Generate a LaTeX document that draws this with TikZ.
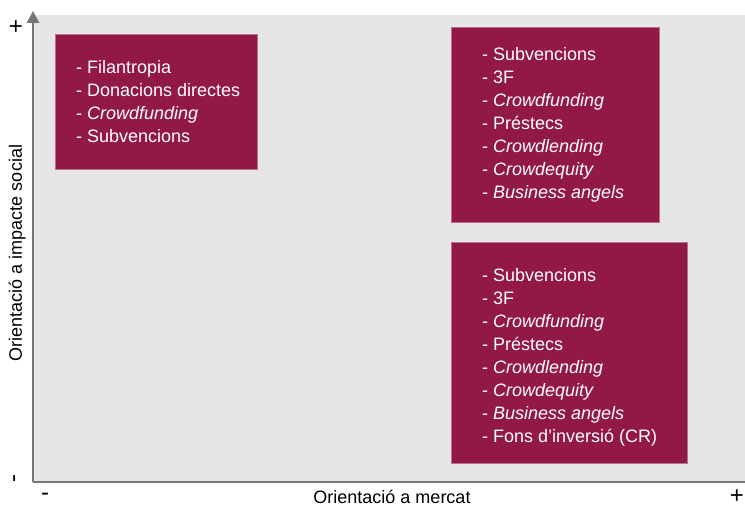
\documentclass[tikz,border=0pt]{standalone}
\usepackage{fontspec}
\setmainfont{Liberation Sans}
\usetikzlibrary{arrows.meta}
\definecolor{bggray}{HTML}{E6E6E6}
\definecolor{axisgray}{HTML}{767676}
\definecolor{maroon}{HTML}{921846}
\definecolor{boxedge}{HTML}{B8708E}
\tikzset{
  quad/.style={draw=boxedge, line width=0.8bp, fill=maroon, anchor=north west, inner sep=0},
  items/.style={text=white, align=left, anchor=west, inner sep=0,
    font=\fontsize{18bp}{23bp}\selectfont},
  axislbl/.style={inner sep=0, font=\fontsize{18bp}{21bp}\selectfont},
  signlbl/.style={inner sep=0, font=\fontsize{24bp}{26bp}\selectfont},
  axisline/.style={draw=axisgray, line width=2.8bp}
}
\begin{document}
\begin{tikzpicture}[x=1bp, y=-1bp]
\useasboundingbox (0,0) rectangle (745,507);
\fill[bggray] (33,15) rectangle (745,482);
% axes
\coordinate (o) at (33,482);
\coordinate (ytop) at (33,11);
\coordinate (xend) at (757,482);
\draw[axisline, -{Triangle[length=12bp, width=12bp]}] (o) -- (ytop);
\draw[axisline, -{Triangle[length=12bp, width=12bp]}] (o) -- (xend);
% axis labels
\node[signlbl, rotate=90] (yplus) at (17,26) {+};
\node[signlbl, rotate=90] (yminus) at (17,479) {-};
\node[signlbl] (xminus) at (45,497) {-};
\node[signlbl, anchor=east] (xplus) at (744,497) {+};
\node[axislbl, rotate=90] (ylbl) at (17,253) {Orientació a impacte social};
\node[axislbl] (xlbl) at (392,497) {Orientació a mercat};
% boxes
\node[quad, minimum width=202bp, minimum height=135bp] (b1) at (55,34) {};
\node[items] (t1) at ([xshift=21bp]b1.west) {- Filantropia\\- Donacions directes\\- \textit{Crowdfunding}\\- Subvencions};
\node[quad, minimum width=208bp, minimum height=195bp] (b2) at (451,27) {};
\node[items] (t2) at ([xshift=31bp]b2.west) {- Subvencions\\- 3F\\- \textit{Crowdfunding}\\- Préstecs\\- \textit{Crowdlending}\\- \textit{Crowdequity}\\- \textit{Business angels}};
\node[quad, minimum width=236bp, minimum height=221bp] (b3) at (451,242) {};
\node[items] (t3) at ([xshift=31bp, yshift=-4bp]b3.west) {- Subvencions\\- 3F\\- \textit{Crowdfunding}\\- Préstecs\\- \textit{Crowdlending}\\- \textit{Crowdequity}\\- \textit{Business angels}\\- Fons d’inversió (CR)};
\end{tikzpicture}
\end{document}
